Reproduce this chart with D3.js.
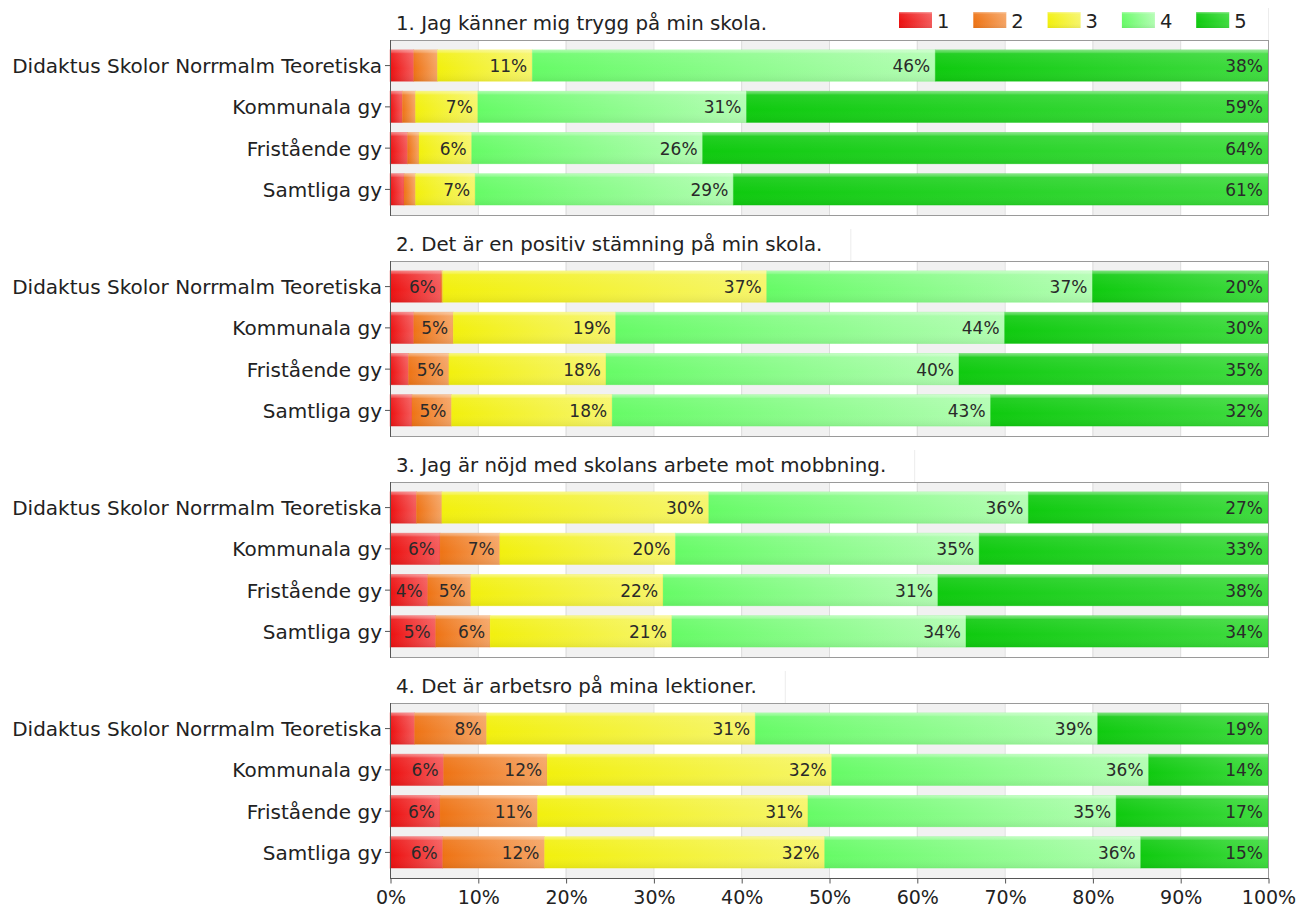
<!DOCTYPE html>
<html><head><meta charset="utf-8">
<script src="https://cdn.jsdelivr.net/npm/d3@7"></script>
<style>body{margin:0;background:#fff}svg{display:block}text{font-family:"DejaVu Sans",Verdana,sans-serif}</style>
</head><body>
<svg id="c" width="1298" height="911"></svg>
<script>
const categories = ["Didaktus Skolor Norrmalm Teoretiska","Kommunala gy","Fristående gy","Samtliga gy"];
const levels = ["1","2","3","4","5"];
const questions = [
  "1. Jag känner mig trygg på min skola.",
  "2. Det är en positiv stämning på min skola.",
  "3. Jag är nöjd med skolans arbete mot mobbning.",
  "4. Det är arbetsro på mina lektioner."
];
const q1 = [[2.7,2.7,10.8,45.9,37.9],[1.4,1.5,7.1,30.6,59.4],[2.0,1.3,6.0,26.3,64.4],[1.6,1.3,6.8,29.4,60.9]];
const q2 = [[5.8,0.2,36.9,37.1,20.0],[2.7,4.5,18.5,44.3,30.0],[2.1,4.6,17.9,40.2,35.2],[2.5,4.5,18.3,43.1,31.6]];
const q3 = [[3.0,2.9,30.4,36.4,27.3],[5.7,6.8,20.0,34.6,32.9],[4.3,4.9,21.9,31.3,37.6],[5.2,6.2,20.7,33.5,34.4]];
const q4 = [[2.8,8.2,30.6,39.0,19.4],[6.1,11.8,32.4,36.1,13.6],[5.7,11.1,30.8,35.1,17.3],[6.0,11.6,31.9,36.0,14.5]];
const xTicks = [0,10,20,30,40,50,60,70,80,90,100];
const panelData = [q1,q2,q3,q4];

const baseColors = ["#ec1010","#ee7314","#f2f00e","#66fb66","#0fca0f"];
const lightColors = ["#f45a5a","#f5a464","#f6f56a","#b2fdb2","#40dc40"];

const svg = d3.select("#c");
const defs = svg.append("defs");
levels.forEach((l,i)=>{
  const g = defs.append("linearGradient").attr("id","hg"+i).attr("x1",0).attr("x2",1).attr("y1",0).attr("y2",0);
  g.append("stop").attr("offset","0%").attr("stop-color",baseColors[i]);
  g.append("stop").attr("offset","100%").attr("stop-color",lightColors[i]);
});
const gl = defs.append("linearGradient").attr("id","gloss").attr("x1",0).attr("x2",0).attr("y1",0).attr("y2",1);
[[0,"#fff",0.45],[0.08,"#fff",0.25],[0.12,"#fff",0.08],[0.6,"#fff",0.0],[1,"#000",0.06]].forEach(s=>
  gl.append("stop").attr("offset",s[0]).attr("stop-color",s[1]).attr("stop-opacity",s[2]));

const x0 = 390, x1 = 1268;
const x = d3.scaleLinear().domain([0,100]).range([x0,x1]);
const panelTops = [40,261,482,703];
const panelH = 175;

panelData.forEach((data,pi)=>{
  const top = panelTops[pi];
  const g = svg.append("g");
  const y = d3.scaleBand().domain(categories).range([top, top+panelH]).padding(0.24);
  g.selectAll("rect.band").data(xTicks.slice(0,-1).filter((d,i)=>i%2===0)).enter().append("rect")
    .attr("x",d=>x(d)).attr("width",d=>x(d+10)-x(d)).attr("y",top).attr("height",panelH).attr("fill","#f1f1f1");
  g.selectAll("line.grid").data(xTicks.slice(1,-1)).enter().append("line")
    .attr("x1",d=>x(d)+0.5).attr("x2",d=>x(d)+0.5).attr("y1",top).attr("y2",top+panelH).attr("stroke","#dcdcdc");
  data.forEach((row,ri)=>{
    let cum = 0;
    const segs = row.map((v,i)=>{const s={i,v,start:cum}; cum+=v; return s;});
    const by = y(categories[ri]), bh = y.bandwidth();
    const rg = g.append("g");
    rg.selectAll("rect.seg").data(segs).enter().append("rect")
      .attr("x",d=>x(d.start)).attr("width",d=>x(d.start+d.v)-x(d.start)).attr("y",by).attr("height",bh)
      .attr("fill",d=>`url(#hg${d.i})`).attr("stroke",d=>baseColors[d.i]).attr("stroke-opacity",0.35).attr("stroke-width",0.8);
    rg.selectAll("rect.gl").data(segs).enter().append("rect")
      .attr("x",d=>x(d.start)).attr("width",d=>x(d.start+d.v)-x(d.start)).attr("y",by).attr("height",bh)
      .attr("fill","url(#gloss)");
    rg.selectAll("text").data(segs.filter(d=>d.v>=3.5)).enter().append("text")
      .attr("x",d=>x(d.start+d.v)-5).attr("y",by+bh/2+6.5).attr("text-anchor","end")
      .attr("font-size",17).attr("fill","#2a2a2a").text(d=>Math.round(d.v)+"%");
  });
  g.append("rect").attr("x",x0+0.5).attr("y",top+0.5).attr("width",x1-x0).attr("height",panelH)
    .attr("fill","none").attr("stroke","#9a9a9a");
  g.append("line").attr("x1",x0+0.5).attr("x2",x0+0.5).attr("y1",top).attr("y2",top+panelH+1).attr("stroke","#555");
  const ya = d3.axisLeft(y).tickSize(5).tickPadding(3);
  const yg = g.append("g").attr("transform",`translate(${x0},0)`).call(ya);
  yg.select(".domain").remove();
  yg.selectAll(".tick line").attr("stroke","#555");
  yg.selectAll(".tick text").attr("font-size",20).attr("fill","#222").attr("font-family","DejaVu Sans, Verdana, sans-serif").attr("dy","0.38em");
  const t = g.append("text").attr("x",396).attr("y",top-10).attr("font-size",19.8).attr("fill","#222").text(questions[pi]);
  const tw = t.node().getComputedTextLength();
  const edge = pi===0 ? x1 : 396+tw+28;
  g.append("line").attr("x1",edge+0.5).attr("x2",edge+0.5).attr("y1",top-32).attr("y2",top).attr("stroke","#ececec");
  if(pi===3){
    g.append("line").attr("x1",x0).attr("x2",x1+1).attr("y1",top+panelH+0.5).attr("y2",top+panelH+0.5).attr("stroke","#555");
    const xa = d3.axisBottom(x).tickValues(xTicks).tickFormat(d=>d+"%").tickSize(5).tickPadding(7);
    const xg = g.append("g").attr("transform",`translate(0.5,${top+panelH+0.5})`).call(xa);
    xg.select(".domain").remove();
    xg.selectAll(".tick line").attr("stroke","#555");
    xg.selectAll(".tick text").attr("font-size",19).attr("fill","#222").attr("font-family","DejaVu Sans, Verdana, sans-serif");
  }
});

const lg = svg.append("g");
levels.forEach((l,i)=>{
  const lx = 899 + i*74.3;
  lg.append("rect").attr("x",lx).attr("y",12).attr("width",33).attr("height",16).attr("fill",`url(#hg${i})`);
  lg.append("rect").attr("x",lx).attr("y",12).attr("width",33).attr("height",16).attr("fill","url(#gloss)");
  lg.append("text").attr("x",lx+38).attr("y",28).attr("font-size",19.5).attr("fill","#222").text(l);
});
</script>
</body></html>
